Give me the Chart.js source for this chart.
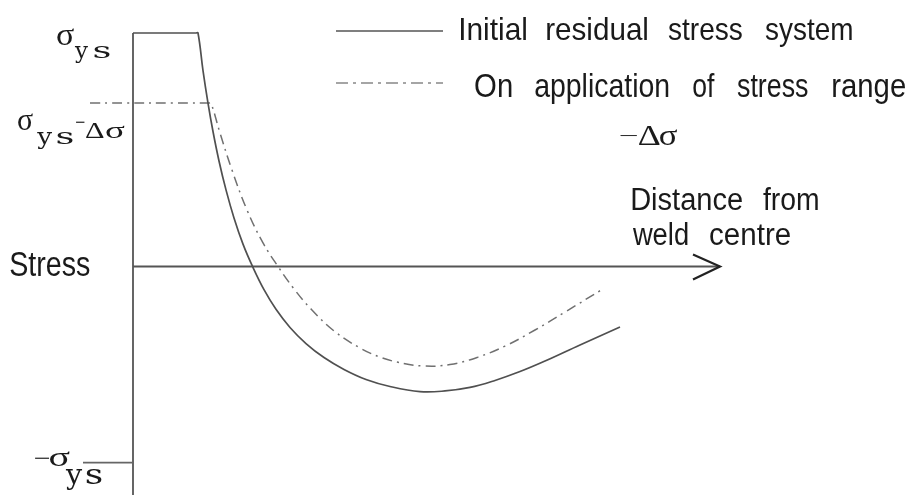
<!DOCTYPE html>
<html><head><meta charset="utf-8">
<script src="https://cdn.jsdelivr.net/npm/chart.js@4/dist/chart.umd.min.js"></script>
<style>html,body{margin:0;padding:0;background:#fff;overflow:hidden}canvas{display:block}</style>
</head><body>
<canvas id="c" width="910" height="495"></canvas>
<script>
// Distance from weld centre (arbitrary units); stress with sigma_ys = 100
const solidDistance = [0, 12.6, 13, 14.0, 15.0, 16.0, 17.2, 18.6, 20.2, 22.0, 24.0, 26.2, 28.6, 31.4, 34.6, 38.2, 42.2, 46.6, 51.4, 57.4, 62.4, 67.4, 72.4, 77.4, 82.4, 89.4, 97.4];
const solidStress   = [100, 100, 100, 83.9, 70.0, 57.8, 45.2, 32.8, 20.8, 9.6, -0.4, -9.9, -18.3, -26.1, -33.0, -39.0, -44.1, -48.4, -51.4, -53.6, -53.3, -51.8, -48.8, -45.0, -40.5, -33.6, -25.9];
const rangeDistance = [-8.6, 15.2, 15.6, 17.4, 19.8, 22.8, 26.0, 29.2, 32.2, 35.6, 40.2, 45.4, 49.4, 52.8, 58.0, 63.4, 69.0, 74.4, 80.4, 86.4, 94.0];
const rangeStress   = [70, 70, 70, 57.2, 41.3, 24.2, 10.1, -0.6, -9.6, -18.2, -27.6, -34.9, -38.8, -40.9, -42.6, -42.0, -38.8, -34.1, -27.2, -19.5, -9.6];
const stressTicks = [100, 70, -84];            // sigma_ys, sigma_ys - delta sigma, -sigma_ys
const tickLabels  = ['σys', 'σys−Δσ', '−σys'];
const seriesNames = ['Initial residual stress system', 'On application of stress range', '−Δσ'];
const axisTitles  = ['Stress', 'Distance from', 'weld centre'];
const distanceAxisEnd = 117.4;
const tickStart = -10;

const SANS = '"Liberation Sans", Arial, sans-serif';
const SERIF = '"Liberation Serif", "Times New Roman", serif';
const SLAB = '"DejaVu Serif", serif';
const INK = '#1a1a1a';

function fit(ctx, t, x0, x1, base, font) {
  ctx.font = font;
  const m = ctx.measureText(t);
  const w = m.actualBoundingBoxLeft + m.actualBoundingBoxRight;
  const s = (x1 - x0) / w;
  ctx.save();
  ctx.textAlign = 'left'; ctx.textBaseline = 'alphabetic';
  ctx.translate(x0 + m.actualBoundingBoxLeft * s, base);
  ctx.scale(s, 1);
  ctx.fillText(t, 0, 0);
  ctx.restore();
}
function fitBox(ctx, t, x0, x1, y0, y1, font) {
  ctx.font = font;
  const m = ctx.measureText(t);
  const w = m.actualBoundingBoxLeft + m.actualBoundingBoxRight;
  const h = m.actualBoundingBoxAscent + m.actualBoundingBoxDescent;
  const sx = (x1 - x0) / w, sy = (y1 - y0) / h;
  ctx.save();
  ctx.textAlign = 'left'; ctx.textBaseline = 'alphabetic';
  ctx.translate(x0 + m.actualBoundingBoxLeft * sx, y0 + m.actualBoundingBoxAscent * sy);
  ctx.scale(sx, sy);
  ctx.fillText(t, 0, 0);
  ctx.restore();
}
function words(ctx, text, spans, base, font) {
  text.split(' ').forEach((w, i) => fit(ctx, w, spans[i][0], spans[i][1], base, font));
}

const sketch = {
  id: 'sketch',
  beforeDatasetsDraw(chart) {
    const { ctx, scales: { x, y }, chartArea } = chart;
    const X = v => x.getPixelForValue(v), Y = v => y.getPixelForValue(v);
    ctx.save();
    ctx.strokeStyle = '#555'; ctx.lineWidth = 1.8; ctx.lineCap = 'butt';
    ctx.beginPath(); ctx.moveTo(X(0), Y(stressTicks[0])); ctx.lineTo(X(0), chartArea.bottom); ctx.stroke();
    const y0 = Y(0), tip = X(distanceAxisEnd);
    ctx.beginPath(); ctx.moveTo(X(0), y0); ctx.lineTo(tip, y0); ctx.stroke();
    ctx.strokeStyle = '#222'; ctx.lineWidth = 2.2;
    ctx.beginPath(); ctx.moveTo(tip - 27, y0 - 12); ctx.lineTo(tip, y0); ctx.lineTo(tip - 27, y0 + 13); ctx.stroke();
    ctx.strokeStyle = '#666'; ctx.lineWidth = 1.6;
    ctx.beginPath(); ctx.moveTo(X(tickStart), Y(stressTicks[2])); ctx.lineTo(X(0), Y(stressTicks[2])); ctx.stroke();
    ctx.restore();
  },
  afterDraw(chart) {
    const { ctx, scales: { y } } = chart;
    const Y = v => y.getPixelForValue(v);
    ctx.save();
    ctx.fillStyle = INK;
    const t0 = Y(stressTicks[0]), t1 = Y(stressTicks[1]), t2 = Y(stressTicks[2]);
    // sigma_ys
    fit(ctx, 'σ', 57, 74, t0 + 12, '32px ' + SERIF);
    fit(ctx, 'y', 74, 88, t0 + 25, '23px ' + SLAB);
    fit(ctx, 's', 94, 110, t0 + 25, '23px ' + SLAB);
    // sigma_ys - delta sigma
    fit(ctx, 'σ', 18, 33, t1 + 27, '32px ' + SERIF);
    fit(ctx, 'y', 36, 52, t1 + 41, '23px ' + SLAB);
    fit(ctx, 's', 57, 73, t1 + 41, '23px ' + SLAB);
    fitBox(ctx, '−', 76, 85, t1 + 18, t1 + 20, '24px ' + SERIF);
    fit(ctx, 'Δ', 85, 104, t1 + 35, '24px ' + SERIF);
    fit(ctx, 'σ', 105, 125, t1 + 35, '24px ' + SERIF);
    // -sigma_ys
    fitBox(ctx, '−', 35, 50, t2 - 6, t2 - 4, '24px ' + SERIF);
    fit(ctx, 'σ', 50, 70, t2 + 3, '28px ' + SERIF);
    fit(ctx, 'y', 65, 83, t2 + 21, '27px ' + SLAB);
    fit(ctx, 's', 86, 102, t2 + 21, '27px ' + SLAB);
    // axis titles
    fit(ctx, axisTitles[0], 10, 90, Y(0) + 9.5, '35px ' + SANS);
    words(ctx, axisTitles[1], [[632, 742], [763, 818]], 210, '31px ' + SANS);
    words(ctx, axisTitles[2], [[632, 688], [710, 790]], 245, '31px ' + SANS);
    // legend
    ctx.strokeStyle = '#555'; ctx.lineWidth = 1.6;
    ctx.beginPath(); ctx.moveTo(336, 31); ctx.lineTo(443, 31); ctx.stroke();
    ctx.strokeStyle = '#888'; ctx.setLineDash([12, 5, 3, 5]);
    ctx.beginPath(); ctx.moveTo(336, 83); ctx.lineTo(443, 83); ctx.stroke();
    ctx.setLineDash([]);
    words(ctx, seriesNames[0], [[460, 526], [547, 647], [668, 742], [765, 852]], 39.5, '32px ' + SANS);
    words(ctx, seriesNames[1], [[475, 512], [535, 669], [693, 715], [737, 808], [833, 905]], 97, '33px ' + SANS);
    fitBox(ctx, '−', 620, 637, 135, 137, '29px ' + SERIF);
    fit(ctx, 'Δ', 639, 660, 145, '29px ' + SERIF);
    fit(ctx, 'σ', 660, 678, 145, '29px ' + SERIF);
    ctx.restore();
  }
};

const toPts = (xs, ys) => xs.map((v, i) => ({ x: v, y: ys[i] }));

new Chart(document.getElementById('c'), {
  type: 'scatter',
  data: {
    datasets: [
      { label: seriesNames[0], data: toPts(solidDistance, solidStress), showLine: true,
        borderColor: '#505050', borderWidth: 1.7, pointRadius: 0, tension: 0.4, fill: false },
      { label: seriesNames[1], data: toPts(rangeDistance, rangeStress), showLine: true,
        borderColor: '#707070', borderWidth: 1.5, borderDash: [10, 5, 2, 5], pointRadius: 0, tension: 0.4, fill: false }
    ]
  },
  options: {
    responsive: false, animation: false, devicePixelRatio: 1, events: [],
    layout: { padding: 0 },
    plugins: { legend: { display: false }, tooltip: { enabled: false } },
    scales: {
      x: { type: 'linear', min: -26.6, max: 155.4, display: false },
      y: { type: 'linear', min: -97.86, max: 114.13, display: false, afterBuildTicks: s => { s.ticks = stressTicks.map(v => ({ value: v })); } }
    }
  },
  plugins: [sketch]
});
</script>
</body></html>
